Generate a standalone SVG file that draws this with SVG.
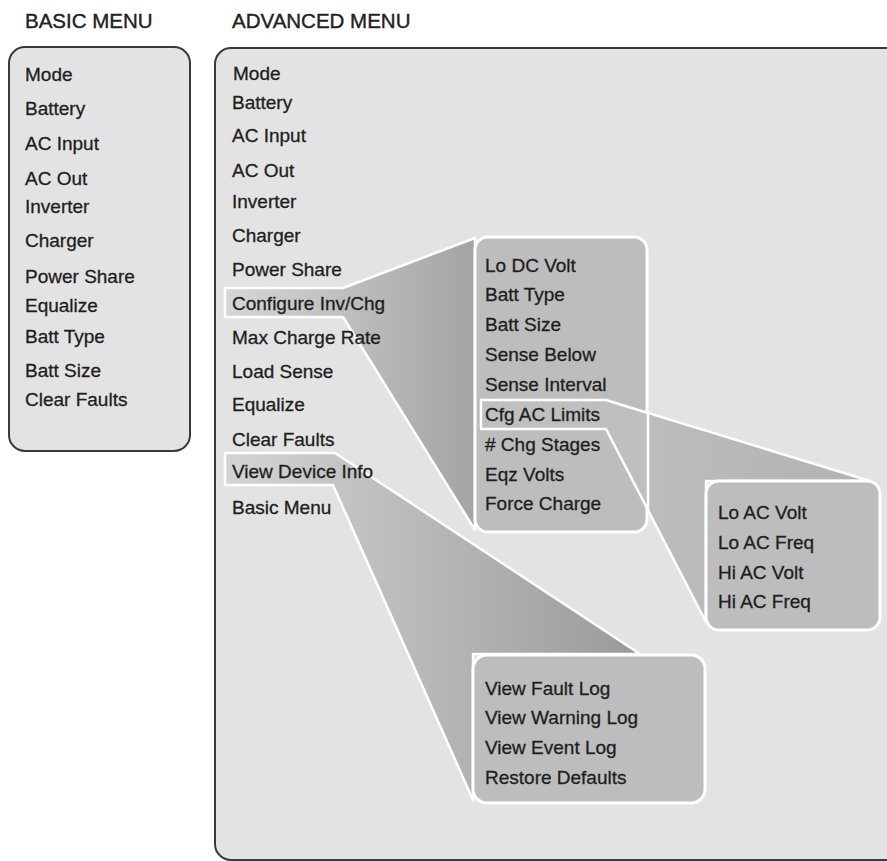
<svg xmlns="http://www.w3.org/2000/svg" width="887" height="861" viewBox="0 0 887 861">
<style>
.t{font-family:"Liberation Sans",Arial,sans-serif;font-size:19px;fill:#1e1e1e;stroke:#1e1e1e;stroke-width:0.3}
.h{font-family:"Liberation Sans",Arial,sans-serif;font-size:20.5px;fill:#222;stroke:#222;stroke-width:0.4}
.panel{fill:#e3e3e3;stroke:#3a3a3a;stroke-width:2}
.sub{fill:#bdbdbd;stroke:#fff;stroke-width:3}
.fun{stroke:#fff;stroke-width:2.5;stroke-linejoin:round}
</style>
<defs>
<linearGradient id="g1" x1="0" y1="0" x2="1" y2="0"><stop offset="0" stop-color="#d6d6d6"/><stop offset="1" stop-color="#a4a4a4"/></linearGradient>
<linearGradient id="g2" x1="0" y1="0" x2="1" y2="0"><stop offset="0" stop-color="#c4c4c4"/><stop offset="1" stop-color="#b2b2b2"/></linearGradient>
<linearGradient id="g3" x1="0" y1="0" x2="1" y2="0"><stop offset="0" stop-color="#d4d4d4"/><stop offset="1" stop-color="#9a9a9a"/></linearGradient>
</defs>
<rect width="887" height="861" fill="#fff"/>
<text class="h" x="25" y="28">BASIC MENU</text>
<text class="h" x="232" y="28">ADVANCED MENU</text>

<g id="basic-menu">
<rect class="panel" x="9" y="47" width="181" height="404" rx="16"/>
<text class="t" x="25" y="81">Mode</text>
<text class="t" x="25" y="115">Battery</text>
<text class="t" x="25" y="150">AC Input</text>
<text class="t" x="25" y="185">AC Out</text>
<text class="t" x="25" y="213">Inverter</text>
<text class="t" x="25" y="247">Charger</text>
<text class="t" x="25" y="283">Power Share</text>
<text class="t" x="25" y="312">Equalize</text>
<text class="t" x="25" y="343">Batt Type</text>
<text class="t" x="25" y="377">Batt Size</text>
<text class="t" x="25" y="406">Clear Faults</text>
</g>

<g id="advanced-menu-panel">
<rect class="panel" x="215" y="48" width="700" height="812" rx="16" stroke="#555"/>
</g>

<g id="connectors">
<polygon class="fun" fill="url(#g1)" points="225,288 343,288 475,238 475,530 343,317 225,317"/>
<polygon class="fun" fill="url(#g2)" points="481,400 606,400 870,481 706,481 706,622 606,429 481,429"/>
<polygon class="fun" fill="url(#g3)" points="225,453 335,453 640,654 473,654 473,800 333,485 225,485"/>
</g>

<g id="configure-submenu">
<rect class="sub" x="475" y="237" width="172" height="295" rx="13"/>
<polygon class="fun" fill="#bfbfbf" points="481,400 606,400 648,413 648,510 606,429 481,429"/>
<text class="t" x="485" y="272">Lo DC Volt</text>
<text class="t" x="485" y="301">Batt Type</text>
<text class="t" x="485" y="331">Batt Size</text>
<text class="t" x="485" y="361">Sense Below</text>
<text class="t" x="485" y="391">Sense Interval</text>
<text class="t" x="485" y="421">Cfg AC Limits</text>
<text class="t" x="485" y="451"># Chg Stages</text>
<text class="t" x="485" y="481">Eqz Volts</text>
<text class="t" x="485" y="510">Force Charge</text>
</g>

<g id="ac-limits-submenu">
<rect class="sub" x="706" y="481" width="174" height="149" rx="13"/>
<text class="t" x="718" y="519">Lo AC Volt</text>
<text class="t" x="718" y="549">Lo AC Freq</text>
<text class="t" x="718" y="579">Hi AC Volt</text>
<text class="t" x="718" y="608">Hi AC Freq</text>
</g>

<g id="device-info-submenu">
<rect class="sub" x="473" y="655" width="232" height="148" rx="14"/>
<text class="t" x="485" y="695">View Fault Log</text>
<text class="t" x="485" y="724">View Warning Log</text>
<text class="t" x="485" y="754">View Event Log</text>
<text class="t" x="485" y="784">Restore Defaults</text>
</g>

<g id="advanced-menu-items">
<text class="t" x="233" y="80">Mode</text>
<text class="t" x="232" y="109">Battery</text>
<text class="t" x="232" y="142">AC Input</text>
<text class="t" x="232" y="177">AC Out</text>
<text class="t" x="232" y="208">Inverter</text>
<text class="t" x="232" y="242">Charger</text>
<text class="t" x="232" y="276">Power Share</text>
<text class="t" x="232" y="310">Configure Inv/Chg</text>
<text class="t" x="232" y="344">Max Charge Rate</text>
<text class="t" x="232" y="378">Load Sense</text>
<text class="t" x="232" y="411">Equalize</text>
<text class="t" x="232" y="446">Clear Faults</text>
<text class="t" x="232" y="478">View Device Info</text>
<text class="t" x="232" y="514">Basic Menu</text>
</g>
</svg>
